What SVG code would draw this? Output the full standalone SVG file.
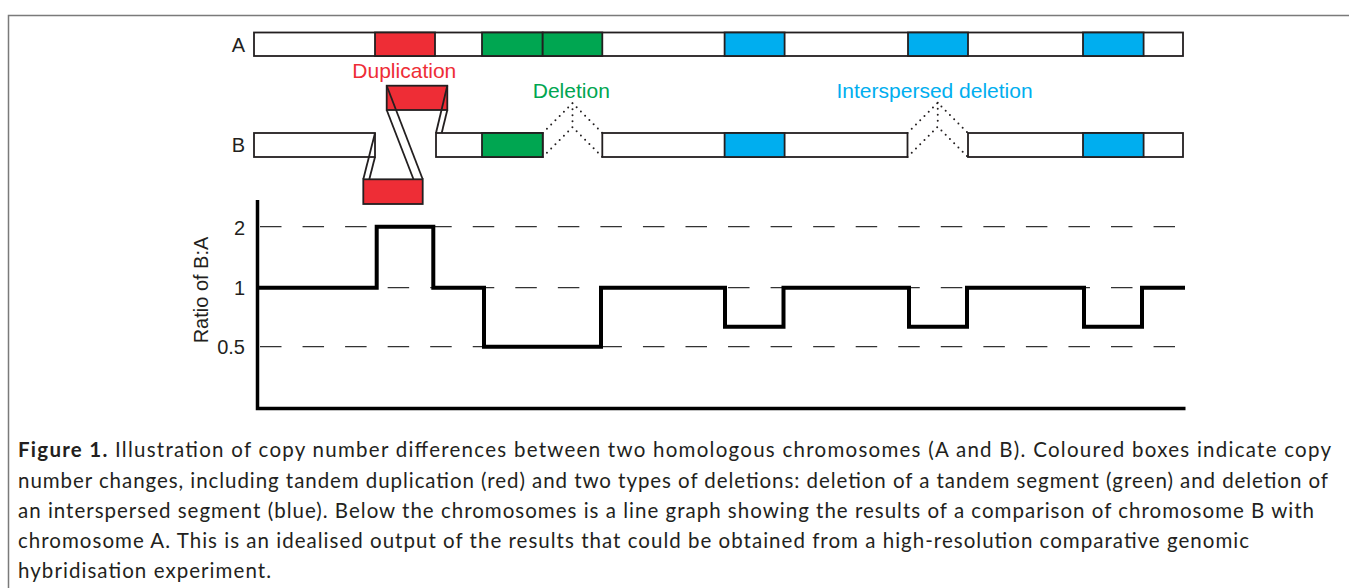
<svg xmlns="http://www.w3.org/2000/svg" width="1349" height="588" viewBox="0 0 1349 588">
<style>
.bar{fill:#fff;stroke:#231f20;stroke-width:1.8}
.red{fill:#ee2d36;stroke:#231f20;stroke-width:1.8}
.grn{fill:#00a651;stroke:#231f20;stroke-width:1.8}
.blu{fill:#00aeef;stroke:#231f20;stroke-width:1.8}
.lbl{font-family:"Liberation Sans",Arial,sans-serif;font-size:20px;fill:#231f20}
.cl{font-family:"Liberation Sans",Arial,sans-serif;font-size:21px;text-anchor:middle}
.dot{fill:none;stroke:#231f20;stroke-width:2;stroke-dasharray:0 6;stroke-linecap:round}
.strip{fill:none;stroke:#231f20;stroke-width:1.8}
.grid{stroke:#333;stroke-width:1.3;stroke-dasharray:21.5 21.05}
.cap{font-family:Lato,"Open Sans",sans-serif;font-size:20.5px;fill:#231f20}
</style>
<rect width="1349" height="588" fill="#fff"/>
<path d="M8.5,588 V15.5 H1349" fill="none" stroke="#7a7a7a" stroke-width="1.5"/>

<g id="chromA">
<text class="lbl" x="245" y="52" text-anchor="end">A</text>
<rect class="bar" x="254" y="32.5" width="929" height="23.5"/>
<rect class="red" x="375" y="32.5" width="60" height="23.5"/>
<rect class="grn" x="482" y="32.5" width="60.7" height="23.5"/>
<rect class="grn" x="542.7" y="32.5" width="59.6" height="23.5"/>
<rect class="blu" x="724.6" y="32.5" width="60" height="23.5"/>
<rect class="blu" x="908" y="32.5" width="60" height="23.5"/>
<rect class="blu" x="1083" y="32.5" width="60.6" height="23.5"/>
</g>

<g id="chromB">
<text class="lbl" x="245" y="152" text-anchor="end">B</text>
<rect class="bar" x="254" y="133" width="121" height="24"/>
<rect class="bar" x="436" y="133" width="106.7" height="24"/>
<rect class="grn" x="482" y="133" width="60.7" height="24"/>
<rect class="bar" x="602.3" y="133" width="305.2" height="24"/>
<rect class="blu" x="724.6" y="133" width="60" height="24"/>
<rect class="bar" x="968" y="133" width="215" height="24"/>
<rect class="blu" x="1083" y="133" width="60.6" height="24"/>
</g>

<g id="duplication">
<rect class="red" x="386.7" y="85.7" width="60.6" height="24.3"/>
<rect class="red" x="363.3" y="179.3" width="59.4" height="24.7"/>
<text class="cl" x="404.3" y="78.3" fill="#ee2d36">Duplication</text>
</g>

<g id="deletion">
<text class="cl" x="571.3" y="97.7" fill="#00a651">Deletion</text>
</g>

<g id="interspersed">
<text class="cl" x="934.6" y="97.7" fill="#00aeef">Interspersed deletion</text>
</g>

<g id="connectors">
<line class="strip" x1="375" y1="133" x2="363.3" y2="179.3"/>
<line class="strip" x1="375" y1="157" x2="369.3" y2="179.3"/>
<line class="strip" x1="386.7" y1="85.7" x2="422.7" y2="179.3"/>
<line class="strip" x1="386.7" y1="110" x2="413.5" y2="179.3"/>
<line class="strip" x1="447.3" y1="85.7" x2="436" y2="133"/>
<line class="strip" x1="447.3" y1="110" x2="441.7" y2="133"/>
<path class="dot" d="M542.7,133 L572.5,103.2 L602.3,133 M542.7,157 L572.5,127.2 L602.3,157 M572.5,103.2 V127.2"/>
<path class="dot" d="M907.5,133 L937.75,102.75 L968,133 M907.5,157 L937.75,126.75 L968,157 M937.75,102.75 V126.75"/>
</g>

<g id="graph">
<line class="grid" x1="260" y1="226.7" x2="1175" y2="226.7"/>
<line class="grid" x1="260" y1="287.7" x2="1175" y2="287.7"/>
<line class="grid" x1="260" y1="346.7" x2="1175" y2="346.7"/>
<path d="M257.5,200 V408.5 H1185.5" fill="none" stroke="#000" stroke-width="3.5"/>
<path d="M257,287.7 H376.7 V226.7 H433.3 V287.7 H484 V346.7 H601 V287.7 H725 V326.7 H783.5 V287.7 H909 V326.7 H967 V287.7 H1084 V326.7 H1142 V287.7 H1185" fill="none" stroke="#000" stroke-width="4"/>
<text class="lbl" x="245" y="235" text-anchor="end">2</text>
<text class="lbl" x="245" y="294.5" text-anchor="end">1</text>
<text class="lbl" x="245" y="353.5" text-anchor="end">0.5</text>
<text class="lbl" transform="translate(208,290) rotate(-90)" text-anchor="middle" font-size="21">Ratio of B:A</text>
</g>

<g id="caption">
<text class="cap" x="18" y="457" textLength="1313" lengthAdjust="spacing"><tspan font-weight="bold">Figure 1.</tspan> Illustration of copy number differences between two homologous chromosomes (A and B). Coloured boxes indicate copy</text>
<text class="cap" x="18" y="488" textLength="1310" lengthAdjust="spacing">number changes, including tandem duplication (red) and two types of deletions: deletion of a tandem segment (green) and deletion of</text>
<text class="cap" x="18" y="518" textLength="1296" lengthAdjust="spacing">an interspersed segment (blue). Below the chromosomes is a line graph showing the results of a comparison of chromosome B with</text>
<text class="cap" x="18" y="548" textLength="1231" lengthAdjust="spacing">chromosome A. This is an idealised output of the results that could be obtained from a high-resolution comparative genomic</text>
<text class="cap" x="18" y="578" textLength="253" lengthAdjust="spacing">hybridisation experiment.</text>
</g>
</svg>
